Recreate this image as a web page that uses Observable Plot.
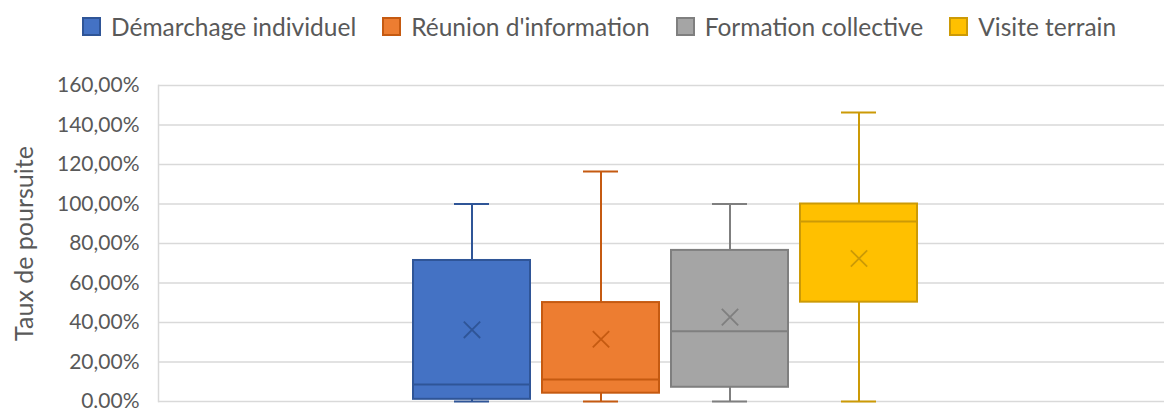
<!DOCTYPE html>
<html>
<head>
<meta charset="utf-8">
<script src="https://cdn.jsdelivr.net/npm/d3@7"></script>
<script src="https://cdn.jsdelivr.net/npm/@observablehq/plot@0.6"></script>
<style>
  html, body { margin: 0; padding: 0; background: #fff; }
  body { width: 1164px; height: 410px; overflow: hidden; font-family: Lato, "Open Sans", sans-serif; color: #595959; }
  #legend { height: 52px; display: flex; align-items: center; padding-left: 82px; box-sizing: border-box; font-size: 24.5px; white-space: nowrap; }
  .item { display: flex; align-items: center; margin-right: 26px; }
  .sw { width: 19px; height: 19px; margin-right: 10px; box-sizing: border-box; border: 2px solid; }
  #chart svg { display: block; }
</style>
</head>
<body>
<div id="legend"></div>
<div id="chart"></div>
<script>
// ---- data ----
const series = ["Démarchage individuel", "Réunion d'information", "Formation collective", "Visite terrain"];
const minVals    = [0.000, 0.000, 0.000, 0.000];
const q1Vals     = [0.011, 0.042, 0.072, 0.503];
const medianVals = [0.086, 0.111, 0.356, 0.911];
const q3Vals     = [0.714, 0.501, 0.765, 1.000];
const maxVals    = [1.000, 1.165, 1.000, 1.463];
const meanVals   = [0.363, 0.315, 0.427, 0.724];
const yTicks      = [0, 0.2, 0.4, 0.6, 0.8, 1.0, 1.2, 1.4, 1.6];
const yTickLabels = ["0.00%", "20,00%", "40,00%", "60,00%", "80,00%", "100,00%", "120,00%", "140,00%", "160,00%"];
const yTitle = "Taux de poursuite";

// ---- styles ----
const fills   = ["#4472C4", "#ED7D31", "#A5A5A5", "#FFC000"];
const strokes = ["#2F5597", "#C55A11", "#7F7F7F", "#CC9A06"];

const stats = series.map((s, i) => ({
  series: s, min: minVals[i], q1: q1Vals[i], median: medianVals[i],
  q3: q3Vals[i], max: maxVals[i], mean: meanVals[i]
}));
const strokeOf = d => strokes[series.indexOf(d.series)];

// legend
const legend = document.getElementById("legend");
series.forEach((s, i) => {
  const it = document.createElement("div"); it.className = "item";
  const sw = document.createElement("div"); sw.className = "sw";
  sw.style.background = fills[i]; sw.style.borderColor = strokes[i];
  const tx = document.createElement("span"); tx.textContent = s;
  it.appendChild(sw); it.appendChild(tx); legend.appendChild(it);
});

const chart = Plot.plot({
  width: 1164,
  height: 358,
  marginTop: 33,
  marginBottom: 9,
  marginLeft: 158,
  marginRight: 0,
  style: { fontFamily: "Lato, 'Open Sans', sans-serif", fontSize: "21px", color: "#595959", background: "white", overflow: "visible" },
  x: { type: "band", domain: series, range: [401, 929], padding: 0.093, axis: null },
  y: { domain: [0, 1.6], ticks: yTicks },
  color: { domain: series, range: fills },
  marks: [
    Plot.ruleY(yTicks, { stroke: "#D9D9D9", strokeWidth: 1.5 }),
    Plot.frame({ anchor: "left", stroke: "#D9D9D9", strokeWidth: 1.5 }),
    Plot.axisY({ ticks: yTicks, tickSize: 0, tickPadding: 19, tickFormat: (d) => yTickLabels[yTicks.indexOf(d)],
      label: null, fill: "#595959" }),
    Plot.axisY({ ticks: [], label: yTitle, labelAnchor: "center", labelArrow: "none", labelOffset: 143,
      fontSize: 25, fill: "#595959" }),
    // whiskers
    Plot.ruleX(stats, { x: "series", y1: "min", y2: "q1", stroke: strokeOf, strokeWidth: 2 }),
    Plot.ruleX(stats, { x: "series", y1: "q3", y2: "max", stroke: strokeOf, strokeWidth: 2 }),
    Plot.tickY(stats, { x: "series", y: "max", stroke: strokeOf, strokeWidth: 2, insetLeft: 41, insetRight: 41 }),
    Plot.tickY(stats, { x: "series", y: "min", stroke: strokeOf, strokeWidth: 2, insetLeft: 41, insetRight: 41 }),
    // boxes
    Plot.barY(stats, { x: "series", y1: "q1", y2: "q3", fill: "series", stroke: strokeOf, strokeWidth: 2 }),
    Plot.tickY(stats, { x: "series", y: "median", stroke: strokeOf, strokeWidth: 2 }),
    // mean
    Plot.dot(stats, { x: "series", y: "mean", symbol: "times", r: 7.5, stroke: strokeOf, strokeWidth: 1.8 })
  ]
});
document.getElementById("chart").appendChild(chart);
</script>
</body>
</html>
